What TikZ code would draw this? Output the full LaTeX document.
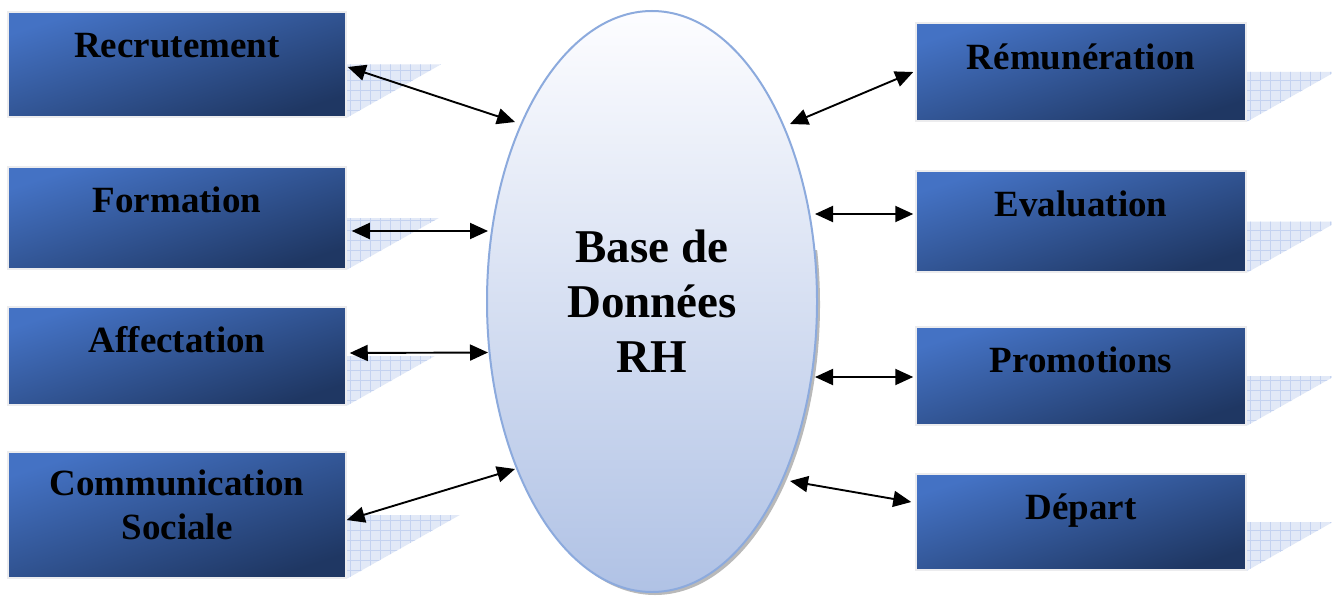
\documentclass[tikz,border=0pt]{standalone}
\usepackage{fontspec}
\setmainfont{Liberation Serif}
\usetikzlibrary{shapes.geometric,arrows.meta}

\definecolor{boxlight}{RGB}{68,114,196}
\definecolor{boxdark}{RGB}{31,55,99}
\definecolor{boxrim}{RGB}{236,236,238}
\definecolor{shadowfill}{RGB}{226,233,247}
\definecolor{shadowgrid}{RGB}{196,210,240}
\definecolor{dbtop}{RGB}{253,253,255}
\definecolor{dbbottom}{RGB}{176,194,229}
\definecolor{dbrim}{RGB}{140,170,221}

\pgfdeclarelayer{background}
\pgfsetlayers{background,main}

\tikzset{
  modbox/.style 2 args={rectangle, draw=boxrim, line width=1.5pt,
    top color=boxlight, bottom color=boxdark, shading angle=18,
    minimum width=#1, minimum height=#2, inner sep=0pt},
  boxtext/.style={anchor=base, inner sep=0pt, align=center,
    font=\fontsize{37}{44}\selectfont\bfseries},
  dbshape/.style={ellipse, draw=dbrim, line width=2pt,
    top color=dbtop, bottom color=dbbottom,
    minimum width=330, minimum height=581, inner sep=0pt,
    align=center, font=\fontsize{47}{55}\selectfont\bfseries},
  biarrow/.style={line width=1.9pt, >={Triangle[length=18pt,width=16pt]}, <->},
}

% perspective shadow to the right of a module box: #1 box, #2 reach
\newcommand\castshadow[2]{%
  \begin{pgfonlayer}{background}
    \begin{scope}
      \clip (#1.east) -- ++(#2,0) -- (#1.south east) -- cycle;
      \fill[shadowfill] ([shift={(-2,-2)}]#1.east) rectangle ([shift={(#2+2,2)}]#1.south east);
      \draw[shadowgrid, line width=0.6pt, step=10pt]
        ([shift={(-2,-2)}]#1.east) grid ([shift={(#2+2,2)}]#1.south east);
    \end{scope}
  \end{pgfonlayer}}

\begin{document}
\begin{tikzpicture}[x=1pt, y=-1pt]
  \clip (0,0) rectangle (1332,599);
  \begin{pgfonlayer}{background}
    \fill[white] (0,0) rectangle (1332,599);
    % soft shadow under the lower right of the database
    \begin{scope}
      \clip (560,250) rectangle (840,599);
      \fill[gray!55] (655,304.5) ellipse [x radius=165pt, y radius=290.5pt];
    \end{scope}
  \end{pgfonlayer}

  % central database
  \node[dbshape] (db) at (652,301.5) {Base de\\Données\\RH};

  % modules on the left
  \node[modbox={338}{105}] (rec)  at (177,64.5) {};
  \node[modbox={338}{102}] (form) at (177,218)  {};
  \node[modbox={338}{98}]  (aff)  at (177,356)  {};
  \node[modbox={338}{126}] (comm) at (177,515)  {};

  % modules on the right
  \node[modbox={330}{98}]  (rem)  at (1081,72)    {};
  \node[modbox={330}{101}] (eval) at (1081,221.5) {};
  \node[modbox={330}{98}]  (prom) at (1081,376)   {};
  \node[modbox={330}{96}]  (dep)  at (1081,522)   {};

  \castshadow{rec}{94}
  \castshadow{form}{92}
  \castshadow{aff}{88}
  \castshadow{comm}{113}
  \castshadow{rem}{88}
  \castshadow{eval}{91}
  \castshadow{prom}{88}
  \castshadow{dep}{86}

  % module titles
  \node[boxtext] (rec-t)  at ([shift={(0,46)}]rec.north)  {Recrutement};
  \node[boxtext] (form-t) at ([shift={(0,46)}]form.north) {Formation};
  \node[boxtext] (aff-t)  at ([shift={(0,46)}]aff.north)  {Affectation};
  \node[boxtext, anchor=north] (comm-t) at ([shift={(0,18)}]comm.north) {Communication\\Sociale};
  \node[boxtext] (rem-t)  at ([shift={(0,47)}]rem.north)  {Rémunération};
  \node[boxtext] (eval-t) at ([shift={(0,46)}]eval.north) {Evaluation};
  \node[boxtext] (prom-t) at ([shift={(0,46)}]prom.north) {Promotions};
  \node[boxtext] (dep-t)  at ([shift={(0,46)}]dep.north)  {Départ};

  % exchanges with the database
  \draw[biarrow] ([shift={(1,2.5)}]rec.east)  -- ([shift={(-137,-179.5)}]db.center);
  \draw[biarrow] ([shift={(5,13)}]form.east)  -- ([shift={(-164,-70.5)}]db.center);
  \draw[biarrow] ([shift={(3,-3)}]aff.east)   -- ([shift={(-164,51)}]db.center);
  \draw[biarrow] ([shift={(0,5)}]comm.east)   -- ([shift={(-137,167.5)}]db.center);
  \draw[biarrow] ([shift={(-2,0)}]rem.west)   -- ([shift={(138,-177.5)}]db.center);
  \draw[biarrow] ([shift={(-2,-7.5)}]eval.west) -- ([shift={(163,-87.5)}]db.center);
  \draw[biarrow] ([shift={(-2,1)}]prom.west)  -- ([shift={(163,75.5)}]db.center);
  \draw[biarrow] ([shift={(-4,-20)}]dep.west) -- ([shift={(138,179.5)}]db.center);
\end{tikzpicture}
\end{document}
